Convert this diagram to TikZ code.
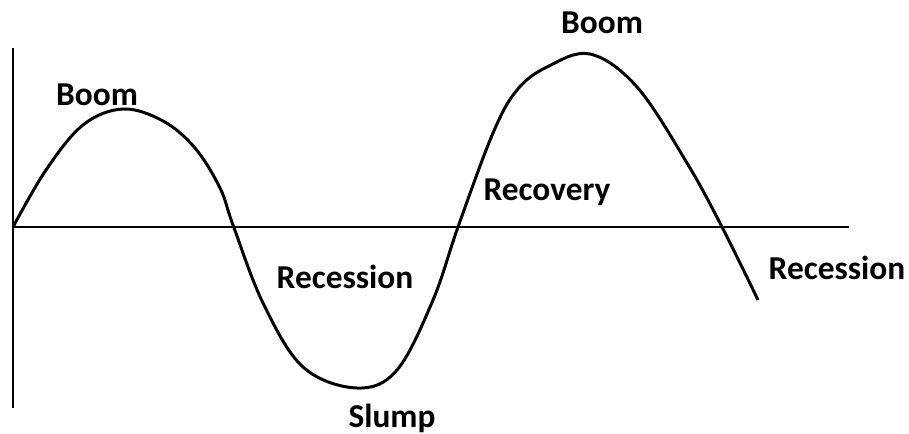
\documentclass[tikz,border=0pt]{standalone}
\usepackage{fontspec}
\setmainfont{Carlito}
\usepackage{tikz}
\usetikzlibrary{arrows.meta}

\tikzset{phase/.style={font=\bfseries\fontsize{19}{22}\selectfont,inner sep=0pt}}

\begin{document}
\begin{tikzpicture}[x=0.02cm,y=0.02cm]
\useasboundingbox (0,0) rectangle (909,433);
\draw[line width=1.2pt](13,385)--(13,25);
\draw[line width=1.2pt](13,206)--(849,206);
\draw[line width=1.7pt,line join=round]plot[smooth,tension=0.6]coordinates{
(13,206)(46,263)(83,308)(123,324)(163,312)(195,285)(220,245)(233,208)(263,130)(303,66)
(357,45)(397,63)(433,133)(458,206)(493,300)(517,343)(547,366)(590,379)(637,346)
(687,270)(722,206)(758,133)};
\node[phase](boomA) at (97,338){Boom};
\node[phase](recA) at (345,156){Recession};
\node[phase](slump) at (392,15){Slump};
\node[phase](recov) at (547,241){Recovery};
\node[phase](boomB) at (602,410){Boom};
\node[phase](recB) at (837,165){Recession};
\end{tikzpicture}
\end{document}
